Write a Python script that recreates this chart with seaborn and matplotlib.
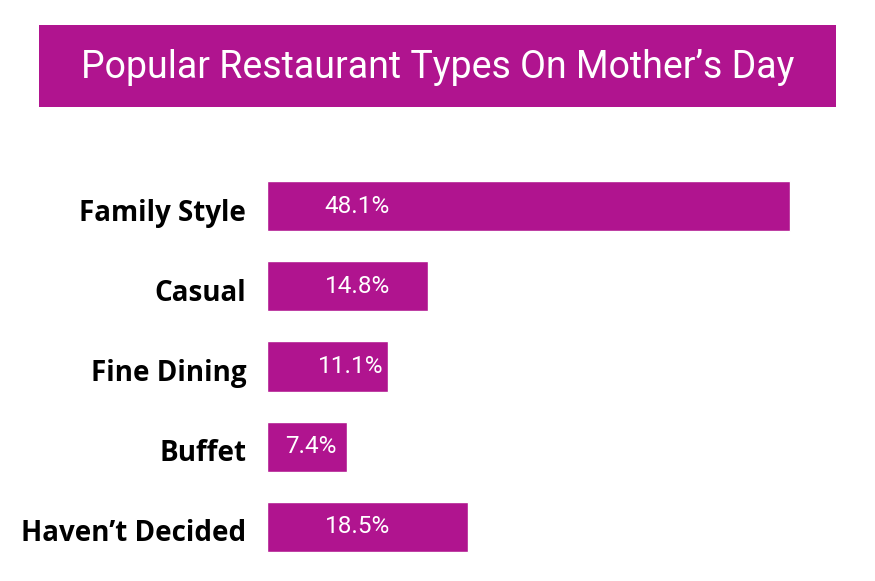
import matplotlib
matplotlib.use("Agg")
import matplotlib.pyplot as plt
import seaborn as sns
import pandas as pd
from matplotlib.patches import Rectangle

categories = ["Family Style", "Casual", "Fine Dining", "Buffet", "Haven\u2019t Decided"]
values = [48.1, 14.8, 11.1, 7.4, 18.5]
value_labels = ["48.1%", "14.8%", "11.1%", "7.4%", "18.5%"]
title = "Popular Restaurant Types On Mother\u2019s Day"

COLOR = "#B0148F"

sns.set_theme(style="white")
plt.rcParams["font.family"] = ["Roboto", "DejaVu Sans"]

W, H = 875, 581
fig = plt.figure(figsize=(W / 100, H / 100), dpi=100)
fig.patch.set_facecolor("white")

# title banner
fig.patches.append(Rectangle((39 / W, 1 - 107 / H), (836 - 39) / W, (107 - 25) / H,
                             transform=fig.transFigure, facecolor=COLOR,
                             edgecolor="none", zorder=0))
fig.text((39 + 836) / 2 / W, 1 - 68 / H, title, color="white", fontsize=27,
         fontweight="normal", ha="center", va="center")

ax = fig.add_axes([267 / W, 1 - 567 / H, (836 - 267) / W, (567 - 166) / H])
df = pd.DataFrame({"category": categories, "value": values})
sns.barplot(data=df, x="value", y="category", orient="h", color=COLOR,
            saturation=1, width=0.625, ax=ax)
ax.set_xlim(0, (836 - 267) / 10.87)
ax.set_ylim(4.5, -0.5)
for s in ax.spines.values():
    s.set_visible(False)
ax.set_xticks([])
ax.set_xlabel("")
ax.set_ylabel("")
ax.set_yticklabels([])
ax.tick_params(axis="y", length=0)

for i, c in enumerate(categories):
    ax.annotate(c, xy=(0, i), xytext=(-15, -5), textcoords="offset points",
                ha="right", va="center", fontsize=20, fontweight="bold",
                color="black", family=["Open Sans", "DejaVu Sans"],
                annotation_clip=False)

for i, (v, t) in enumerate(zip(values, value_labels)):
    ax.text(min(8.3, v - 3.4), i, t, color="white", fontsize=17.5,
            ha="center", va="center", fontweight="normal")

fig.savefig("out.png", dpi=100, facecolor="white")
